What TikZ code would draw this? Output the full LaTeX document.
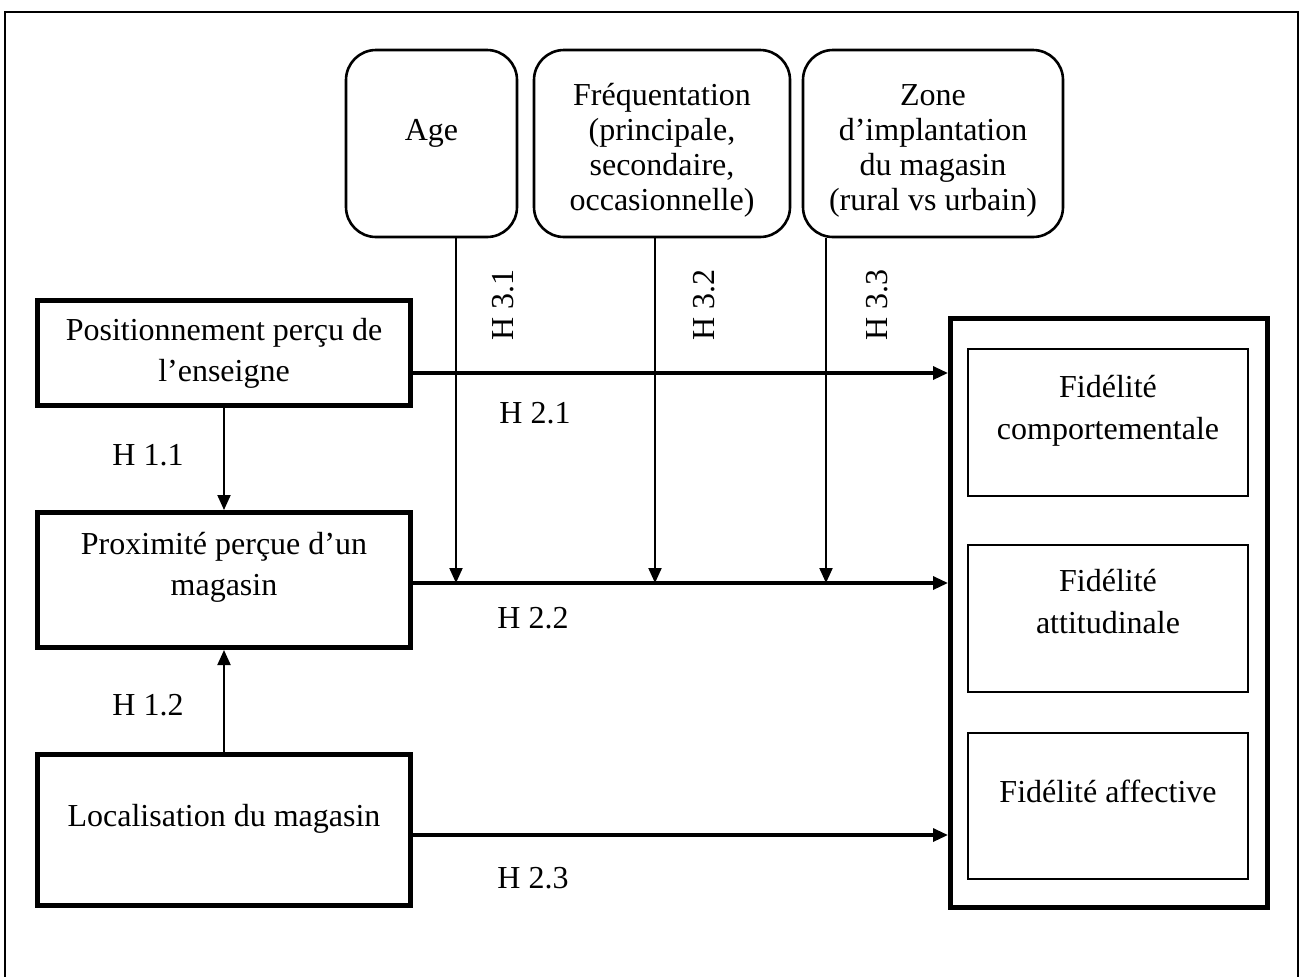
\documentclass[tikz,border=0pt]{standalone}
\usepackage{fontspec}
\setmainfont{Liberation Serif}
\usetikzlibrary{arrows.meta}

\begin{document}
\begin{tikzpicture}[x=0.5pt,y=-0.5pt,
  every node/.style={font=\fontsize{16}{20.5}\selectfont,align=center,inner sep=0pt},
  cadre/.style={draw,line width=2.5pt,minimum width=186.5pt},
  modbox/.style={draw,line width=1.3pt,rounded corners=15pt,minimum height=93.5pt,font=\fontsize{16}{17.5}\selectfont},
  fidbox/.style={draw,line width=1pt,minimum width=140pt,minimum height=73.5pt,font=\fontsize{16}{21}\selectfont},
  hyp/.style={anchor=base west},
  fleche/.style={-{Triangle[length=7.5pt,width=6.5pt]},line width=1pt},
  grosse/.style={fleche,line width=1.6pt}]
\useasboundingbox (0,0) rectangle (1300,976);
\draw[line width=1pt] (5,990) |- (1297.5,11.5) -- (1297.5,990);

% variables
\node[cadre,minimum height=52.5pt,text height=32pt,text depth=4pt] (pos) at (224,353) {Positionnement perçu de\\l’enseigne};
\node[cadre,minimum height=67.5pt,text height=19pt,text depth=4pt] (prox) at (224,580) {Proximité perçue d’un\\magasin};
\node[cadre,minimum height=75.5pt,text height=11pt,text depth=15pt] (loc) at (224,830) {Localisation du magasin};

% moderateurs
\node[modbox,minimum width=85.5pt,text height=11pt,text depth=14.5pt] (age) at (431.5,143.5) {Age};
\node[modbox,minimum width=128pt,text height=70.5pt,text depth=4pt] (freq) at (662,143.5) {Fréquentation\\(principale,\\secondaire,\\occasionnelle)};
\node[modbox,minimum width=130pt,text height=70.5pt,text depth=4pt] (zone) at (933,143.5) {Zone\\d’implantation\\du magasin\\(rural vs urbain)};

% fidelite
\node[draw,line width=2.5pt,minimum width=158.5pt,minimum height=294.5pt] (fid) at (1109,613) {};
\node[fidbox,text height=20.5pt,text depth=4pt] (comp) at (1108,422.5) {Fidélité\\comportementale};
\node[fidbox,text height=18.5pt,text depth=4pt] (att) at (1108,618.5) {Fidélité\\attitudinale};
\node[fidbox,minimum height=73pt,text height=11pt,text depth=15pt] (aff) at (1108,806) {Fidélité affective};

\draw[fleche] (pos.south) -- (prox.north);
\draw[fleche] (loc.north) -- (prox.south);

\coordinate (h21) at ([yshift=-10pt]pos.east);
\coordinate (h22) at ([yshift=-1.5pt]prox.east);
\coordinate (h23) at ([yshift=-2.5pt]loc.east);
\draw[grosse] (h21) -- (h21 -| fid.west);
\draw[grosse] (h22) -- (h22 -| fid.west);
\draw[grosse] (h23) -- (h23 -| fid.west);

\coordinate (m1) at (456,583);
\coordinate (m2) at (655,583);
\coordinate (m3) at (826,583);
\draw[fleche] (age.south -| m1) -- (m1);
\draw[fleche] (freq.south -| m2) -- (m2);
\draw[fleche] (zone.south -| m3) -- (m3);

\node[hyp] (l11) at (112,465) {H 1.1};
\node[hyp] (l12) at (112,715) {H 1.2};
\node[hyp] (l21) at (499,423) {H 2.1};
\node[hyp] (l22) at (497,628) {H 2.2};
\node[hyp] (l23) at (497,888) {H 2.3};
\node[rotate=90] (l31) at (503,305) {H 3.1};
\node[rotate=90] (l32) at (704,305) {H 3.2};
\node[rotate=90] (l33) at (877,305) {H 3.3};
\end{tikzpicture}
\end{document}
